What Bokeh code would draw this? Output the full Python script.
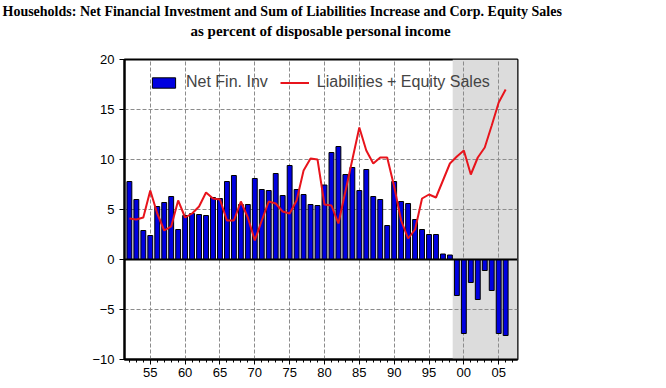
from bokeh.plotting import figure
from bokeh.models import Range1d, FixedTicker, BoxAnnotation, Span, Title, ColumnDataSource
from bokeh.embed import file_html
from bokeh.resources import INLINE

years = list(range(1952, 2007))
net_fin_inv = [7.8, 6.0, 2.9, 2.4, 5.3, 5.7, 6.3, 3.0, 4.4, 4.6,
               4.5, 4.4, 6.2, 6.1, 7.8, 8.4, 5.5, 5.5, 8.1, 7.0,
               6.9, 8.6, 6.4, 9.4, 7.0, 6.5, 5.5, 5.4, 7.45, 10.7,
               11.3, 8.5, 9.2, 6.9, 9.0, 6.3, 6.0, 3.4, 7.8, 5.8,
               5.6, 4.0, 3.0, 2.5, 2.5, 0.55, 0.45, -3.6, -7.4, -2.3,
               -4.0, -1.1, -3.1, -7.4, -7.6]
liab_equity = [4.1, 4.0, 4.2, 6.9, 4.6, 2.9, 3.3, 5.9, 4.2, 4.6,
               5.3, 6.7, 6.1, 6.0, 3.9, 3.9, 5.8, 4.2, 1.9, 3.9,
               5.8, 5.6, 4.8, 4.6, 5.9, 8.9, 10.1, 10.0, 5.5, 5.4,
               3.6, 6.8, 10.0, 13.2, 10.9, 9.6, 10.2, 10.2, 7.3, 3.9,
               2.1, 3.0, 6.1, 6.5, 6.2, 7.9, 9.6, 10.3, 10.9, 8.5,
               10.2, 11.2, 13.4, 15.7, 17.0]
x_tick_years = [1955, 1960, 1965, 1970, 1975, 1980, 1985, 1990, 1995, 2000, 2005]
x_tick_labels = ["55", "60", "65", "70", "75", "80", "85", "90", "95", "00", "05"]
y_ticks = [-10, -5, 0, 5, 10, 15, 20]
shade_start = 1998.4
title_line1 = "Households: Net Financial Investment and Sum of Liabilities Increase and Corp. Equity Sales"
title_line2 = "as percent of disposable personal income"

src = ColumnDataSource(dict(year=years, nfi=net_fin_inv, le=liab_equity))

p = figure(width=650, height=384, output_backend="svg", toolbar_location=None,
           x_range=Range1d(1951.3, 2007.7), y_range=Range1d(-10, 20),
           min_border_left=124, min_border_right=133, min_border_top=59,
           min_border_bottom=25)
p.title.visible = False

# second line is padded with an empty line so it sits higher above the frame
t2 = Title(text=title_line2 + "\n\u00a0", align="left", offset=66, text_font="Liberation Serif",
           text_font_style="bold", text_font_size="15px", text_color="black",
           text_line_height=1.0, vertical_align="bottom", standoff=10)
t1 = Title(text=title_line1, align="left", offset=-122, text_font="Liberation Serif",
           text_font_style="bold", text_font_size="14px", text_color="black",
           vertical_align="bottom", standoff=-6)
p.add_layout(t2, "above")
p.add_layout(t1, "above")

shade = BoxAnnotation(left=shade_start, fill_color="#DCDCDC", fill_alpha=1.0,
                      line_alpha=0, level="image")
p.add_layout(shade)

p.vbar(x="year", top="nfi", bottom=0, width=0.7, source=src, fill_color="#0000E0",
       line_color="black", line_width=1, legend_label="Net Fin. Inv")
p.line(x="year", y="le", source=src, line_color="#E8141C", line_width=2,
       legend_label="Liabilities + Equity Sales")

p.add_layout(Span(location=0, dimension="width", line_color="black", line_width=2))

p.xaxis.ticker = FixedTicker(ticks=x_tick_years, minor_ticks=years + [2007])
p.xaxis.major_label_overrides = {yr: lab for yr, lab in zip(x_tick_years, x_tick_labels)}
p.yaxis.ticker = FixedTicker(ticks=y_ticks)

for ax in (p.xaxis[0], p.yaxis[0]):
    ax.axis_line_color = "black"
    ax.axis_line_width = 2
    ax.major_tick_line_color = "black"
    ax.major_tick_in = 0
    ax.major_tick_out = 5
    ax.minor_tick_line_color = "black"
    ax.minor_tick_in = 0
    ax.minor_tick_out = 3
    ax.major_label_text_font = "Liberation Sans"
    ax.major_label_text_font_size = "13px"
    ax.major_label_text_color = "black"
p.xaxis.major_label_standoff = 3
p.yaxis.major_label_standoff = 5

for g in (p.xgrid[0], p.ygrid[0]):
    g.grid_line_color = "#8C8C8C"
    g.grid_line_dash = "4 2"
    g.grid_line_width = 1

p.outline_line_color = "black"
p.outline_line_width = 2
p.background_fill_color = "white"
p.border_fill_color = "white"

lg = p.legend[0]
lg.orientation = "horizontal"
lg.location = (25, 268)
lg.background_fill_alpha = 0
lg.border_line_alpha = 0
lg.label_text_font = "Liberation Sans"
lg.label_text_font_size = "16px"
lg.glyph_width = 29
lg.glyph_height = 13
lg.label_standoff = 8
lg.spacing = 12
lg.padding = 0
lg.margin = 0

open("out.html", "w").write(file_html(p, INLINE))
